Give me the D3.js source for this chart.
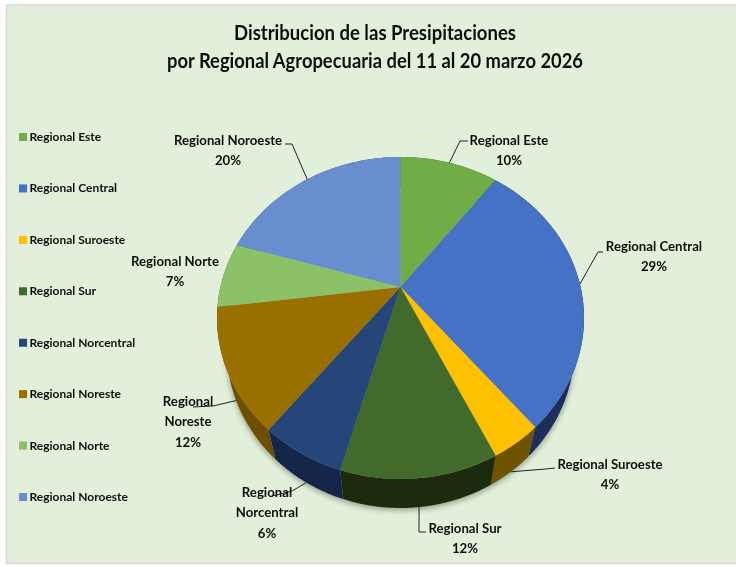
<!DOCTYPE html>
<html>
<head>
<meta charset="utf-8">
<script src="https://cdn.jsdelivr.net/npm/d3@7"></script>
<style>
  html, body { margin: 0; padding: 0; background: #fff; }
  text { font-family: Lato, "Open Sans", sans-serif; font-weight: 700; fill: #111; }
</style>
</head>
<body>
<div id="chart"></div>
<script>
const categories = ["Regional Este", "Regional Central", "Regional Suroeste", "Regional Sur",
  "Regional Norcentral", "Regional Noreste", "Regional Norte", "Regional Noroeste"];
const shares = [10.4, 28.6, 3.8, 11.6, 6.3, 12.3, 6.6, 20.4];
const titleLines = ["Distribucion de las Presipitaciones",
  "por Regional Agropecuaria del 11 al 20 marzo 2026"];
const colors = ["#70ad47", "#4472c4", "#ffc000", "#436a2b", "#264478", "#997000", "#8cc168", "#698ed0"];
const wallColors = ["#3a5a24", "#1a2f5c", "#6e5200", "#1d2a10", "#16274b", "#6e5000", "#46612f", "#34486a"];

// hand placed labels, same order as categories: [label x, first line y, leader points]
const labelLines = [["Regional Este"], ["Regional Central"], ["Regional Suroeste"], ["Regional Sur"],
  ["Regional", "Norcentral"], ["Regional", "Noreste"], ["Regional Norte"], ["Regional Noroeste"]];
const labelAt = [[509, 140], [654, 246], [610, 464], [465, 528], [267, 492], [188, 401], [175, 261], [228, 140]];
const leaders = [
  [[460, 141], [468, 141]],
  [[598, 252], [603, 252]],
  [[546, 469], [555, 468]],
  [[419, 532], [426, 532]],
  [[292, 491], [272, 496]],
  [[213, 406], [193, 407]],
  [],
  [[292, 144], [285, 144]]
];
// leader starts on the lower rim for the slices at the front
const onWall = [false, false, true, true, true, true, false, false];

const width = 736, height = 567;
const top3d = { cx: 400.5, cy: 318, rx: 183.5, ry: 161 };
const bottom3d = { cx: 400.5, cy: 348, rx: 174, ry: 160 };
const tilt = 0.1925; // how far the pie's apex sits above the ellipse centre, as share of ry

// circle angle -> point in the ellipse, perspective moves the centre up
const rim = (a) => {
  const u = Math.sin(a), v = -Math.cos(a);
  const k = 1 - tilt * v;
  return [u * Math.sqrt(1 - tilt * tilt) / k, (v - tilt) / k];
};
const place = (p, e) => [e.cx + p[0] * e.rx, e.cy + p[1] * e.ry];
const apex = place([0, -tilt], top3d);

const svg = d3.select("#chart").append("svg")
  .attr("width", width).attr("height", height)
  .style("display", "block");

const defs = svg.append("defs");
defs.append("filter").attr("id", "shadow")
  .attr("x", "-20%").attr("y", "-20%").attr("width", "140%").attr("height", "140%")
  .append("feGaussianBlur").attr("stdDeviation", 2.5);
const soft = defs.append("filter").attr("id", "soft");
soft.append("feGaussianBlur").attr("stdDeviation", 0.35);

svg.append("rect")
  .attr("x", 6.5).attr("y", 5).attr("width", width).attr("height", 558.5)
  .attr("fill", "#e2efda").attr("stroke", "#d9d9d9").attr("stroke-width", 1.5);

const title = svg.append("g").attr("filter", "url(#soft)");
title.selectAll("text").data(titleLines).enter().append("text")
  .attr("x", 375).attr("y", (d, i) => 40 + i * 28)
  .attr("text-anchor", "middle")
  .attr("font-size", 21)
  .attr("textLength", (d, i) => [282, 416][i])
  .attr("lengthAdjust", "spacingAndGlyphs")
  .text((d) => d);

const legendY = d3.scalePoint().domain(categories).range([137, 497]);
const legend = svg.append("g").attr("filter", "url(#soft)");
legend.selectAll("rect").data(categories).enter().append("rect")
  .attr("x", 19).attr("y", (d) => legendY(d) - 4)
  .attr("width", 8).attr("height", 8)
  .attr("fill", (d, i) => colors[i]);
legend.selectAll("text").data(categories).enter().append("text")
  .attr("x", 29.5).attr("y", (d) => legendY(d) + 4)
  .attr("font-size", 12)
  .text((d) => d);

const slices = d3.pie().sort(null).value((d) => d)(shares);
const arcSteps = (s) => d3.range(0, 61).map((i) => s.startAngle + (s.endAngle - s.startAngle) * i / 60);
const line = d3.line();

svg.append("ellipse")
  .attr("cx", bottom3d.cx).attr("cy", bottom3d.cy + 2)
  .attr("rx", bottom3d.rx + 1).attr("ry", bottom3d.ry + 1)
  .attr("fill", "#5a6650").attr("opacity", 0.5)
  .attr("filter", "url(#shadow)");

const pie = svg.append("g").attr("filter", "url(#soft)");

pie.selectAll("path.wall").data(slices).enter().append("path")
  .attr("class", "wall")
  .attr("fill", (d, i) => wallColors[i])
  .attr("d", (s) => {
    const pts = arcSteps(s).map(rim);
    return line(pts.map((p) => place(p, top3d)).concat(pts.reverse().map((p) => place(p, bottom3d)))) + "Z";
  });

pie.selectAll("path.face").data(slices).enter().append("path")
  .attr("class", "face")
  .attr("fill", (d, i) => colors[i])
  .attr("d", (s) => line([apex].concat(arcSteps(s).map((a) => place(rim(a), top3d)))) + "Z");

const labels = svg.append("g");

labels.selectAll("path").data(slices).enter().append("path")
  .attr("fill", "none").attr("stroke", "#222").attr("stroke-width", 1)
  .attr("d", (s, i) => {
    if (!leaders[i].length) return null;
    const p = rim((s.startAngle + s.endAngle) / 2);
    return line([place(p, onWall[i] ? bottom3d : top3d)].concat(leaders[i]));
  });

const pct = d3.format(".0f");
const labelText = labels.append("g").attr("filter", "url(#soft)")
  .selectAll("text").data(categories).enter().append("text")
  .attr("text-anchor", "middle")
  .attr("font-size", 13.2)
  .attr("x", (d, i) => labelAt[i][0])
  .attr("y", (d, i) => labelAt[i][1] + 4.5);

labelText.each(function (d, i) {
  const rows = labelLines[i].concat([pct(shares[i]) + "%"]);
  d3.select(this).selectAll("tspan").data(rows).enter().append("tspan")
    .attr("x", labelAt[i][0])
    .attr("dy", (r, j) => (j === 0 ? 0 : 20.7))
    .text((r) => r);
});
</script>
</body>
</html>
